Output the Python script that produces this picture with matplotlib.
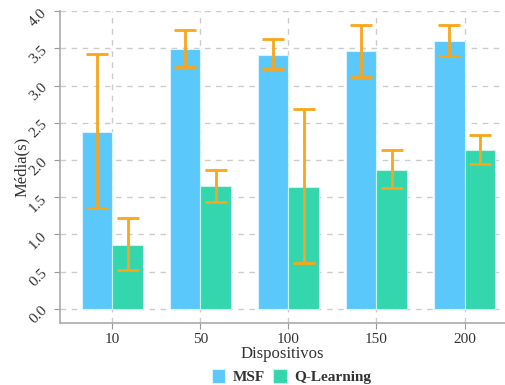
import numpy as np
import matplotlib
matplotlib.use('Agg')
import matplotlib.pyplot as plt

plt.rcParams['font.family'] = ['Liberation Serif', 'DejaVu Serif']

dispositivos = ['10', '50', '100', '150', '200']
msf_media = [2.38, 3.49, 3.41, 3.46, 3.60]
msf_low = [1.36, 3.25, 3.22, 3.11, 3.40]
msf_high = [3.43, 3.75, 3.62, 3.82, 3.82]
ql_media = [0.86, 1.65, 1.64, 1.87, 2.14]
ql_low = [0.52, 1.44, 0.62, 1.63, 1.95]
ql_high = [1.22, 1.86, 2.68, 2.13, 2.34]

cor_msf = '#5AC8FA'
cor_ql = '#34D6AE'
cor_err = '#F9A61A'

fig = plt.figure(figsize=(5.05, 3.85), dpi=100)
ax = fig.add_axes([0.119, 0.161, 0.881, 0.81])

x = np.arange(len(dispositivos))
w = 0.345

def err(media, low, high):
    m = np.array(media)
    return [m - np.array(low), np.array(high) - m]

ax.bar(x - w / 2, msf_media, w, color=cor_msf, edgecolor='#d8f2ff', linewidth=0.8,
       label='MSF', zorder=2)
ax.bar(x + w / 2, ql_media, w, color=cor_ql, edgecolor='#c8f5e8', linewidth=0.8,
       label='Q-Learning', zorder=2)
ax.errorbar(x - w / 2, msf_media, yerr=err(msf_media, msf_low, msf_high), fmt='none',
            ecolor=cor_err, elinewidth=2, capsize=8, capthick=2, zorder=3)
ax.errorbar(x + w / 2, ql_media, yerr=err(ql_media, ql_low, ql_high), fmt='none',
            ecolor=cor_err, elinewidth=2, capsize=8, capthick=2, zorder=3)

ax.set_xlim(-0.594, 4.46)
ax.set_ylim(-0.19, 4.0)
ax.set_xticks(x)
ax.set_xticklabels(dispositivos, fontsize=11)
ax.set_yticks(np.arange(0, 4.01, 0.5))
ax.set_yticklabels(['{:.1f}'.format(v) for v in np.arange(0, 4.01, 0.5)],
                   rotation=45, fontsize=11)
ax.tick_params(axis='both', colors='#999999', labelcolor='#333333', length=4)

ax.grid(True, linestyle=(0, (4, 4)), color='#cccccc', linewidth=1, zorder=0)
ax.set_axisbelow(True)
for s in ['top', 'right']:
    ax.spines[s].set_visible(False)
for s in ['left', 'bottom']:
    ax.spines[s].set_color('#aaaaaa')
    ax.spines[s].set_linewidth(1.2)

ax.set_xlabel('Dispositivos', fontsize=12, color='#333333', labelpad=0)
ax.set_ylabel('Média(s)', fontsize=12, color='#333333', labelpad=-2)

fig.legend(loc='center', bbox_to_anchor=(0.577, 0.022), ncol=2, frameon=False,
           prop={'weight': 'bold', 'size': 11}, handlelength=0.9, handleheight=1.0,
           handletextpad=0.5, columnspacing=0.5, labelcolor='#333333')

fig.savefig('out.png', dpi=100)
